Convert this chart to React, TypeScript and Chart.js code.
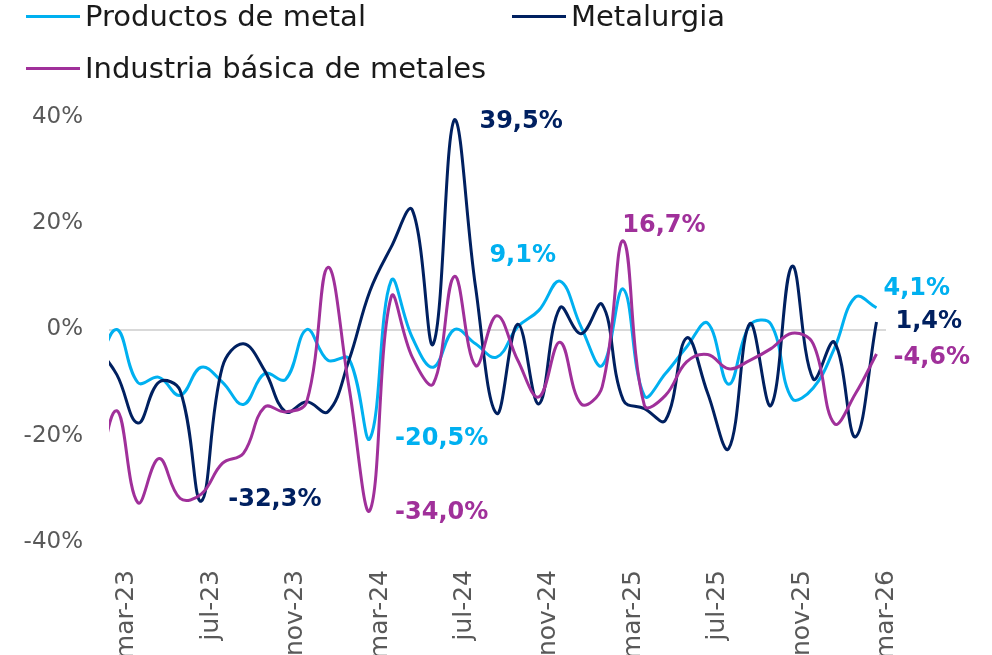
import React, { useEffect, useRef } from 'react';
import { Chart, registerables } from 'chart.js';

Chart.register(...registerables);

// Months (feb-23 sits just left of the plot edge and is clipped, as in the original)
const months = [
  'feb-23', 'mar-23', 'abr-23', 'may-23', 'jun-23', 'jul-23', 'ago-23', 'sep-23', 'oct-23', 'nov-23', 'dic-23',
  'ene-24', 'feb-24', 'mar-24', 'abr-24', 'may-24', 'jun-24', 'jul-24', 'ago-24', 'sep-24', 'oct-24', 'nov-24', 'dic-24',
  'ene-25', 'feb-25', 'mar-25', 'abr-25', 'may-25', 'jun-25', 'jul-25', 'ago-25', 'sep-25', 'oct-25', 'nov-25', 'dic-25',
  'ene-26', 'feb-26', 'mar-26',
];

const productosDeMetal = [
  -8, 0, -10, -9, -12.4, -7.1, -9.9, -14.1, -8.3, -9.4, 0,
  -5.8, -5.5, -20.5, 9.2, -1.5, -7.1, 0, -2.7, -5.2, 0.5, 3.6, 9.1,
  0.5, -6.8, 7.6, -12.5, -8.3, -3.3, 1.2, -10.3, 0.8, 1.0, -13, -11,
  -3.6, 6.1, 4.1,
];

const metalurgia = [
  -3, -8.5, -17.6, -9.9, -11.5, -32.3, -7.1, -2.7, -7.7, -15.5, -13.6,
  -15.5, -5.8, 7.3, 15.5, 22.5, -2.7, 39.5, 8, -15.8, 1, -14, 4.1,
  -0.8, 4.7, -13.3, -14.9, -17.1, -1.6, -12, -22.4, 1.1, -14.3, 11.9, -9.3,
  -2.4, -20.2, 1.4,
];

const industriaBasica = [
  -30, -15.3, -32.6, -24.3, -31.8, -31, -25.2, -23.3, -14.6, -15.5, -13.6,
  11.7, -10.8, -34.0, 6.1, -5.2, -10.2, 10.0, -6.8, 2.6, -5.8, -12.7, -2.4,
  -14.0, -10.8, 16.7, -14.3, -12.4, -6.1, -4.7, -7.4, -5.8, -3.6, -0.7, -2.7,
  -17.7, -12.1, -4.6,
];

const seriesNames = ['Productos de metal', 'Metalurgia', 'Industria básica de metales'];
const seriesValues = [productosDeMetal, metalurgia, industriaBasica];
const seriesColors = ['#00B0F0', '#002060', '#A0309A'];

const xTickIndex = [1, 5, 9, 13, 17, 21, 25, 29, 33, 37];
const yTickValues = [-40, -20, 0, 20, 40];

// Which points carry a value label (series index, month index) + label placement
const labelledPoints = [
  { ds: 1, i: 17, dx: 25, dy: 2, align: 'left' },
  { ds: 1, i: 5, dx: 27, dy: -1, align: 'left' },
  { ds: 2, i: 13, dx: 25, dy: 3, align: 'left' },
  { ds: 0, i: 13, dx: 25, dy: 0, align: 'left' },
  { ds: 0, i: 22, dx: -4, dy: -25, align: 'right' },
  { ds: 2, i: 25, dx: -1, dy: -15, align: 'left' },
  { ds: 0, i: 37, dx: 7, dy: -19, align: 'left' },
  { ds: 1, i: 37, dx: 19, dy: 0, align: 'left' },
  { ds: 2, i: 37, dx: 17, dy: 4, align: 'left' },
];

const fmt = (v: number) => v.toFixed(1).replace('.', ',') + '%';

const valueLabelPlugin = {
  id: 'valueLabels',
  afterDatasetsDraw(chart: any) {
    const { ctx } = chart;
    ctx.save();
    ctx.font = 'bold 24px "DejaVu Sans"';
    ctx.textBaseline = 'middle';
    labelledPoints.forEach((l) => {
      const meta = chart.getDatasetMeta(l.ds);
      const pt = meta.data[l.i];
      if (!pt) return;
      ctx.fillStyle = seriesColors[l.ds];
      ctx.textAlign = l.align as CanvasTextAlign;
      ctx.fillText(fmt(seriesValues[l.ds][l.i]), pt.x + l.dx, pt.y + l.dy);
    });
    ctx.restore();
  },
};

export default function App() {
  const canvasRef = useRef<HTMLCanvasElement | null>(null);

  useEffect(() => {
    if (!canvasRef.current) return;
    const drawOrder = [3, 2, 1];
    const chart = new Chart(canvasRef.current, {
      type: 'line',
      data: {
        datasets: seriesValues.map((vals, k) => ({
          label: seriesNames[k],
          data: vals.map((v, i) => ({ x: i, y: v })),
          borderColor: seriesColors[k],
          backgroundColor: seriesColors[k],
          borderWidth: 3,
          pointRadius: 0,
          tension: 0.4,
          fill: false,
          order: drawOrder[k],
          clip: 0,
        })),
      },
      options: {
        responsive: false,
        animation: false,
        events: [],
        layout: { padding: { top: 117, right: 106, bottom: 0, left: 0 } },
        plugins: {
          legend: { display: false },
          tooltip: { enabled: false },
        },
        scales: {
          x: {
            type: 'linear',
            min: 0.63,
            max: 37.45,
            afterBuildTicks: (s: any) => {
              s.ticks = xTickIndex.map((v) => ({ value: v }));
            },
            afterFit: (s: any) => {
              s.height = 113;
            },
            grid: { display: false },
            border: { display: false },
            ticks: {
              autoSkip: false,
              minRotation: 90,
              maxRotation: 90,
              padding: 20,
              labelOffset: 10,
              color: '#595959',
              font: { family: 'DejaVu Sans', size: 25 },
              callback: (v: any) => months[v as number] ?? '',
            },
          },
          y: {
            type: 'linear',
            min: -40,
            max: 40,
            afterBuildTicks: (s: any) => {
              s.ticks = yTickValues.map((v) => ({ value: v }));
            },
            afterFit: (s: any) => {
              s.width = 109;
            },
            grid: {
              drawTicks: false,
              lineWidth: 2,
              color: (c: any) => (c.tick && c.tick.value === 0 ? '#D9D9D9' : 'rgba(0,0,0,0)'),
            },
            border: { display: false },
            ticks: {
              padding: 26,
              color: '#595959',
              font: { family: 'DejaVu Sans', size: 23 },
              callback: (v: any) => v + '%',
            },
          },
        },
      },
      plugins: [valueLabelPlugin],
    });
    return () => chart.destroy();
  }, []);

  const legendPos = [
    { left: 26, top: 0 },
    { left: 512, top: 0 },
    { left: 26, top: 52 },
  ];

  return (
    <div style={{ position: 'fixed', left: 0, top: 0, width: 992, height: 655, background: '#fff', overflow: 'hidden' }}>
      <canvas ref={canvasRef} width={992} height={655} style={{ position: 'absolute', left: 0, top: 0 }} />
      {seriesNames.map((name, k) => (
        <div
          key={name}
          style={{
            position: 'absolute',
            left: legendPos[k].left,
            top: legendPos[k].top,
            display: 'flex',
            alignItems: 'center',
            height: 32,
            whiteSpace: 'nowrap',
          }}
        >
          <span style={{ display: 'inline-block', width: 54, height: 3, background: seriesColors[k], marginRight: 5 }} />
          <span style={{ fontFamily: '"DejaVu Sans"', fontSize: 29, lineHeight: '32px', color: '#1a1a1a' }}>{name}</span>
        </div>
      ))}
    </div>
  );
}
